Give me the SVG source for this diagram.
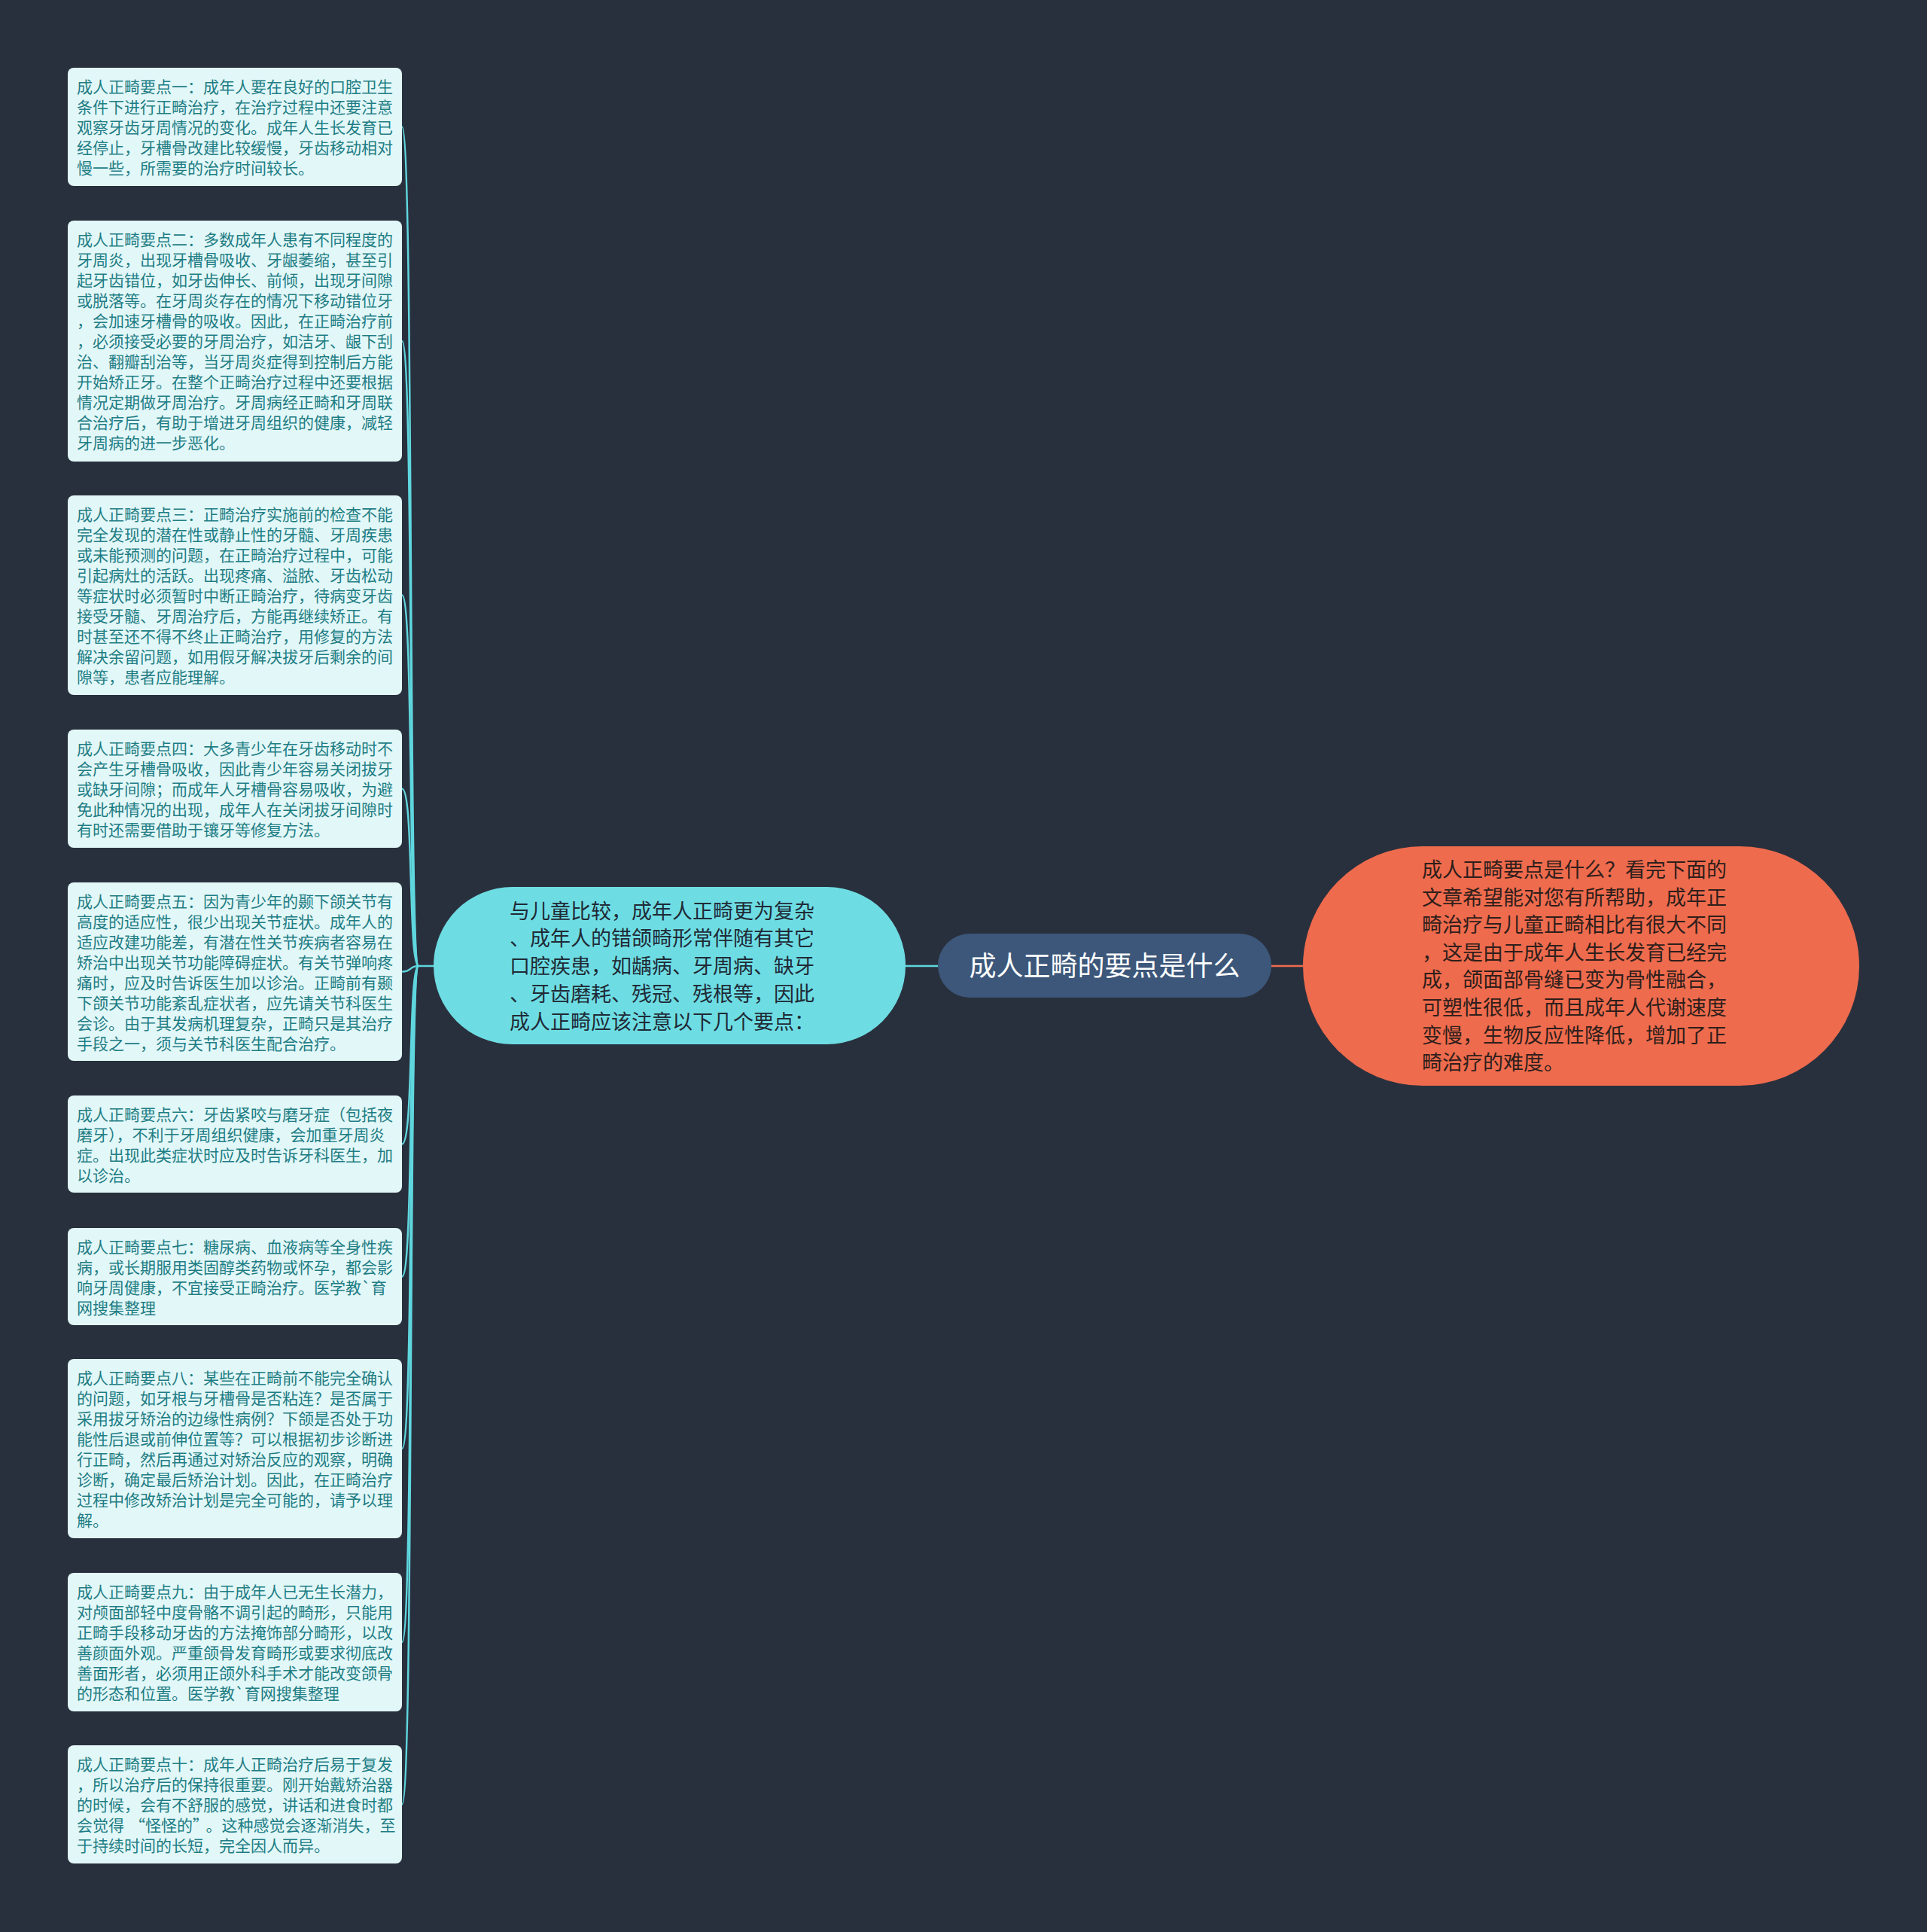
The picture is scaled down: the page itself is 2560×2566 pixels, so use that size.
<svg xmlns="http://www.w3.org/2000/svg" width="2560" height="2566" viewBox="0 0 2560 2566">
<style>
.bg{fill:#29303d}
.leaf rect{fill:#e2f7f8}
.leaf text{font-family:"Noto Sans CJK SC","Noto Sans",sans-serif;font-size:21px;fill:#1e7d84}
.mid rect{fill:#6edde3}
.mid text{font-family:"Noto Sans CJK SC","Noto Sans",sans-serif;font-size:27px;fill:#1f2a36}
.root rect{fill:#3c577a}
.root text{font-family:"Noto Sans CJK SC","Noto Sans",sans-serif;font-size:36px;fill:#ffffff}
.right rect{fill:#ee6b4d}
.right text{font-family:"Noto Sans CJK SC","Noto Sans",sans-serif;font-size:27px;fill:#2e1e1b}
.c{fill:none;stroke:#5fd6de;stroke-width:2.5}
.co{fill:none;stroke:#ee6b4d;stroke-width:2.5}
</style>
<rect class="bg" x="0" y="0" width="2560" height="2566"/>
<g id="connectors">
<path class="c" d="M534 168.5 C550 168.5 542 1283 556 1283"/>
<path class="c" d="M534 453 C550 453 542 1283 556 1283"/>
<path class="c" d="M534 790.5 C550 790.5 542 1283 556 1283"/>
<path class="c" d="M534 1047.5 C550 1047.5 542 1283 556 1283"/>
<path class="c" d="M534 1290.5 C548 1290.5 543 1283 556 1283"/>
<path class="c" d="M534 1519.5 C550 1519.5 542 1283 556 1283"/>
<path class="c" d="M534 1695.5 C550 1695.5 542 1283 556 1283"/>
<path class="c" d="M534 1924 C550 1924 542 1283 556 1283"/>
<path class="c" d="M534 2181 C550 2181 542 1283 556 1283"/>
<path class="c" d="M534 2396.5 C550 2396.5 542 1283 556 1283"/>
<path class="c" d="M556 1283 L576 1283"/>
<path class="c" d="M1203 1283 L1246 1283"/>
<path class="co" d="M1689 1283 L1731 1283"/>
</g>
<g id="root" class="root">
<rect x="1246" y="1240" width="443" height="85" rx="42.5"/>
<text x="1467.5" y="1296" text-anchor="middle">成人正畸的要点是什么</text>
</g>
<g id="right" class="right">
<rect x="1731" y="1124" width="739" height="318" rx="159"/>
<text x="1889" y="1165"><tspan x="1889">成人正畸要点是什么？看完下面的</tspan><tspan x="1889" dy="36.6">文章希望能对您有所帮助，成年正</tspan><tspan x="1889" dy="36.6">畸治疗与儿童正畸相比有很大不同</tspan><tspan x="1889" dy="36.6">，这是由于成年人生长发育已经完</tspan><tspan x="1889" dy="36.6">成，颌面部骨缝已变为骨性融合，</tspan><tspan x="1889" dy="36.6">可塑性很低，而且成年人代谢速度</tspan><tspan x="1889" dy="36.6">变慢，生物反应性降低，增加了正</tspan><tspan x="1889" dy="36.6">畸治疗的难度。</tspan></text>
</g>
<g id="mid" class="mid">
<rect x="576" y="1178" width="627" height="209" rx="104.5"/>
<text x="677" y="1219.5"><tspan x="677">与儿童比较，成年人正畸更为复杂</tspan><tspan x="677" dy="36.75">、成年人的错颌畸形常伴随有其它</tspan><tspan x="677" dy="36.75">口腔疾患，如龋病、牙周病、缺牙</tspan><tspan x="677" dy="36.75">、牙齿磨耗、残冠、残根等，因此</tspan><tspan x="677" dy="36.75">成人正畸应该注意以下几个要点：</tspan></text>
</g>
<g id="leaf1" class="leaf">
<rect x="90" y="90" width="444" height="157" rx="8"/>
<text x="102" y="123"><tspan x="102">成人正畸要点一：成年人要在良好的口腔卫生</tspan><tspan x="102" dy="27">条件下进行正畸治疗，在治疗过程中还要注意</tspan><tspan x="102" dy="27">观察牙齿牙周情况的变化。成年人生长发育已</tspan><tspan x="102" dy="27">经停止，牙槽骨改建比较缓慢，牙齿移动相对</tspan><tspan x="102" dy="27">慢一些，所需要的治疗时间较长。</tspan></text>
</g>
<g id="leaf2" class="leaf">
<rect x="90" y="293" width="444" height="320" rx="8"/>
<text x="102" y="326"><tspan x="102">成人正畸要点二：多数成年人患有不同程度的</tspan><tspan x="102" dy="27">牙周炎，出现牙槽骨吸收、牙龈萎缩，甚至引</tspan><tspan x="102" dy="27">起牙齿错位，如牙齿伸长、前倾，出现牙间隙</tspan><tspan x="102" dy="27">或脱落等。在牙周炎存在的情况下移动错位牙</tspan><tspan x="102" dy="27">，会加速牙槽骨的吸收。因此，在正畸治疗前</tspan><tspan x="102" dy="27">，必须接受必要的牙周治疗，如洁牙、龈下刮</tspan><tspan x="102" dy="27">治、翻瓣刮治等，当牙周炎症得到控制后方能</tspan><tspan x="102" dy="27">开始矫正牙。在整个正畸治疗过程中还要根据</tspan><tspan x="102" dy="27">情况定期做牙周治疗。牙周病经正畸和牙周联</tspan><tspan x="102" dy="27">合治疗后，有助于增进牙周组织的健康，减轻</tspan><tspan x="102" dy="27">牙周病的进一步恶化。</tspan></text>
</g>
<g id="leaf3" class="leaf">
<rect x="90" y="658" width="444" height="265" rx="8"/>
<text x="102" y="691"><tspan x="102">成人正畸要点三：正畸治疗实施前的检查不能</tspan><tspan x="102" dy="27">完全发现的潜在性或静止性的牙髓、牙周疾患</tspan><tspan x="102" dy="27">或未能预测的问题，在正畸治疗过程中，可能</tspan><tspan x="102" dy="27">引起病灶的活跃。出现疼痛、溢脓、牙齿松动</tspan><tspan x="102" dy="27">等症状时必须暂时中断正畸治疗，待病变牙齿</tspan><tspan x="102" dy="27">接受牙髓、牙周治疗后，方能再继续矫正。有</tspan><tspan x="102" dy="27">时甚至还不得不终止正畸治疗，用修复的方法</tspan><tspan x="102" dy="27">解决余留问题，如用假牙解决拔牙后剩余的间</tspan><tspan x="102" dy="27">隙等，患者应能理解。</tspan></text>
</g>
<g id="leaf4" class="leaf">
<rect x="90" y="969" width="444" height="157" rx="8"/>
<text x="102" y="1002"><tspan x="102">成人正畸要点四：大多青少年在牙齿移动时不</tspan><tspan x="102" dy="27">会产生牙槽骨吸收，因此青少年容易关闭拔牙</tspan><tspan x="102" dy="27">或缺牙间隙；而成年人牙槽骨容易吸收，为避</tspan><tspan x="102" dy="27">免此种情况的出现，成年人在关闭拔牙间隙时</tspan><tspan x="102" dy="27">有时还需要借助于镶牙等修复方法。</tspan></text>
</g>
<g id="leaf5" class="leaf">
<rect x="90" y="1172" width="444" height="237" rx="8"/>
<text x="102" y="1205"><tspan x="102">成人正畸要点五：因为青少年的颞下颌关节有</tspan><tspan x="102" dy="27">高度的适应性，很少出现关节症状。成年人的</tspan><tspan x="102" dy="27">适应改建功能差，有潜在性关节疾病者容易在</tspan><tspan x="102" dy="27">矫治中出现关节功能障碍症状。有关节弹响疼</tspan><tspan x="102" dy="27">痛时，应及时告诉医生加以诊治。正畸前有颞</tspan><tspan x="102" dy="27">下颌关节功能紊乱症状者，应先请关节科医生</tspan><tspan x="102" dy="27">会诊。由于其发病机理复杂，正畸只是其治疗</tspan><tspan x="102" dy="27">手段之一，须与关节科医生配合治疗。</tspan></text>
</g>
<g id="leaf6" class="leaf">
<rect x="90" y="1455" width="444" height="129" rx="8"/>
<text x="102" y="1488"><tspan x="102">成人正畸要点六：牙齿紧咬与磨牙症（包括夜</tspan><tspan x="102" dy="27">磨牙），不利于牙周组织健康，会加重牙周炎</tspan><tspan x="102" dy="27">症。出现此类症状时应及时告诉牙科医生，加</tspan><tspan x="102" dy="27">以诊治。</tspan></text>
</g>
<g id="leaf7" class="leaf">
<rect x="90" y="1631" width="444" height="129" rx="8"/>
<text x="102" y="1664"><tspan x="102">成人正畸要点七：糖尿病、血液病等全身性疾</tspan><tspan x="102" dy="27">病，或长期服用类固醇类药物或怀孕，都会影</tspan><tspan x="102" dy="27">响牙周健康，不宜接受正畸治疗。医学教`育</tspan><tspan x="102" dy="27">网搜集整理</tspan></text>
</g>
<g id="leaf8" class="leaf">
<rect x="90" y="1805" width="444" height="238" rx="8"/>
<text x="102" y="1838"><tspan x="102">成人正畸要点八：某些在正畸前不能完全确认</tspan><tspan x="102" dy="27">的问题，如牙根与牙槽骨是否粘连？是否属于</tspan><tspan x="102" dy="27">采用拔牙矫治的边缘性病例？下颌是否处于功</tspan><tspan x="102" dy="27">能性后退或前伸位置等？可以根据初步诊断进</tspan><tspan x="102" dy="27">行正畸，然后再通过对矫治反应的观察，明确</tspan><tspan x="102" dy="27">诊断，确定最后矫治计划。因此，在正畸治疗</tspan><tspan x="102" dy="27">过程中修改矫治计划是完全可能的，请予以理</tspan><tspan x="102" dy="27">解。</tspan></text>
</g>
<g id="leaf9" class="leaf">
<rect x="90" y="2089" width="444" height="184" rx="8"/>
<text x="102" y="2122"><tspan x="102">成人正畸要点九：由于成年人已无生长潜力，</tspan><tspan x="102" dy="27">对颅面部轻中度骨骼不调引起的畸形，只能用</tspan><tspan x="102" dy="27">正畸手段移动牙齿的方法掩饰部分畸形，以改</tspan><tspan x="102" dy="27">善颜面外观。严重颌骨发育畸形或要求彻底改</tspan><tspan x="102" dy="27">善面形者，必须用正颌外科手术才能改变颌骨</tspan><tspan x="102" dy="27">的形态和位置。医学教`育网搜集整理</tspan></text>
</g>
<g id="leaf10" class="leaf">
<rect x="90" y="2318" width="444" height="157" rx="8"/>
<text x="102" y="2351"><tspan x="102">成人正畸要点十：成年人正畸治疗后易于复发</tspan><tspan x="102" dy="27">，所以治疗后的保持很重要。刚开始戴矫治器</tspan><tspan x="102" dy="27">的时候，会有不舒服的感觉，讲话和进食时都</tspan><tspan x="102" dy="27">会觉得</tspan><tspan dx="7">“怪怪的”</tspan><tspan dx="7">。这种感觉会逐渐消失，至</tspan><tspan x="102" dy="27">于持续时间的长短，完全因人而异。</tspan></text>
</g>
</svg>
